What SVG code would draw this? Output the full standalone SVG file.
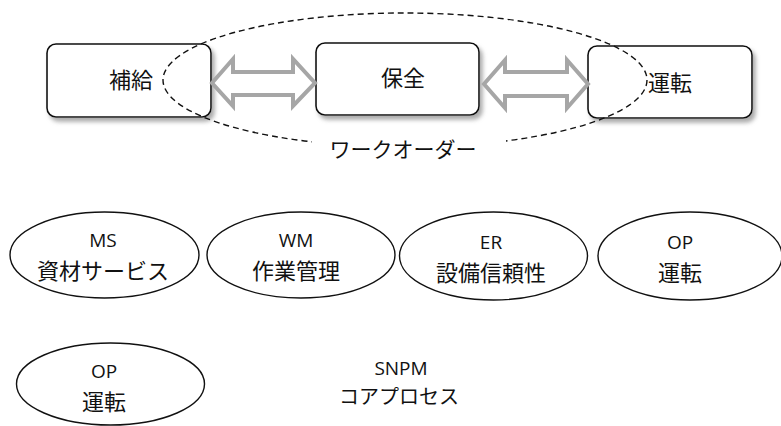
<svg xmlns="http://www.w3.org/2000/svg" width="781" height="426" viewBox="0 0 781 426">
<style>
.box{fill:#fff;stroke:#111;stroke-width:1.6;filter:url(#sh)}
.ell{fill:#fff;stroke:#111;stroke-width:1.4}
.arr{fill:#fff;stroke:#a6a6a6;stroke-width:4;stroke-linejoin:miter}
.dash{fill:none;stroke:#111;stroke-width:1.4;stroke-dasharray:6 4}
.jp{font-family:"Noto Sans CJK JP","Noto Sans",sans-serif;fill:#111;text-anchor:middle;dominant-baseline:central}
.lat{font-family:"Open Sans","Noto Sans",sans-serif;fill:#111;text-anchor:middle;dominant-baseline:central;font-size:19px}
</style>
<defs>
<filter id="sh" x="-10%" y="-10%" width="130%" height="140%">
<feDropShadow dx="3" dy="4" stdDeviation="2" flood-color="#888" flood-opacity="0.7"/>
</filter>
</defs>
<rect width="781" height="426" fill="#fff"/>
<g id="hokyu"><rect class="box" x="47" y="44" width="164" height="73" rx="9"/></g>
<g id="hozen"><rect class="box" x="316" y="43" width="163" height="72" rx="9"/></g>
<g id="unten"><rect class="box" x="588" y="46" width="164" height="72" rx="9"/></g>
<g id="connectors">
<polygon class="arr" points="212,83 233,59 233,72 293,72 293,59 315,83 293,106 293,95 233,95 233,106"/>
<polygon class="arr" points="484,84 505,60 505,72 567,72 567,60 588,84 567,108 567,96 505,96 505,108"/>
</g>
<g id="workorder">
<ellipse class="dash" cx="405" cy="80" rx="242" ry="67"/>
<rect x="312" y="136" width="194" height="24" fill="#fff"/>
<text class="jp" x="403" y="148" font-size="21">ワークオーダー</text>
</g>
<g id="hokyu-label"><text class="jp" x="131" y="78" font-size="22">補給</text></g>
<g id="hozen-label"><text class="jp" x="403" y="76" font-size="22">保全</text></g>
<g id="unten-label"><text class="jp" x="670" y="81" font-size="22">運転</text></g>
<g id="ms"><ellipse class="ell" cx="104.5" cy="255" rx="94.5" ry="43"/>
<text class="lat" x="103" y="240">MS</text>
<text class="jp" x="103" y="268.5" font-size="22">資材サービス</text></g>
<g id="wm"><ellipse class="ell" cx="301" cy="255" rx="94" ry="43"/>
<text class="lat" x="296" y="240">WM</text>
<text class="jp" x="296" y="268.5" font-size="22">作業管理</text></g>
<g id="er"><ellipse class="ell" cx="493.5" cy="256" rx="94" ry="44"/>
<text class="lat" x="491" y="242">ER</text>
<text class="jp" x="491" y="270.5" font-size="22">設備信頼性</text></g>
<g id="op"><ellipse class="ell" cx="690" cy="256" rx="92" ry="44"/>
<text class="lat" x="680" y="242">OP</text>
<text class="jp" x="680" y="270.5" font-size="22">運転</text></g>
<g id="op2"><ellipse class="ell" cx="110.5" cy="384" rx="94" ry="41"/>
<text class="lat" x="104" y="370.5">OP</text>
<text class="jp" x="104" y="399.5" font-size="22">運転</text></g>
<g id="snpm">
<text class="lat" x="401" y="368">SNPM</text>
<text class="jp" x="399" y="395" font-size="20">コアプロセス</text></g>
</svg>
